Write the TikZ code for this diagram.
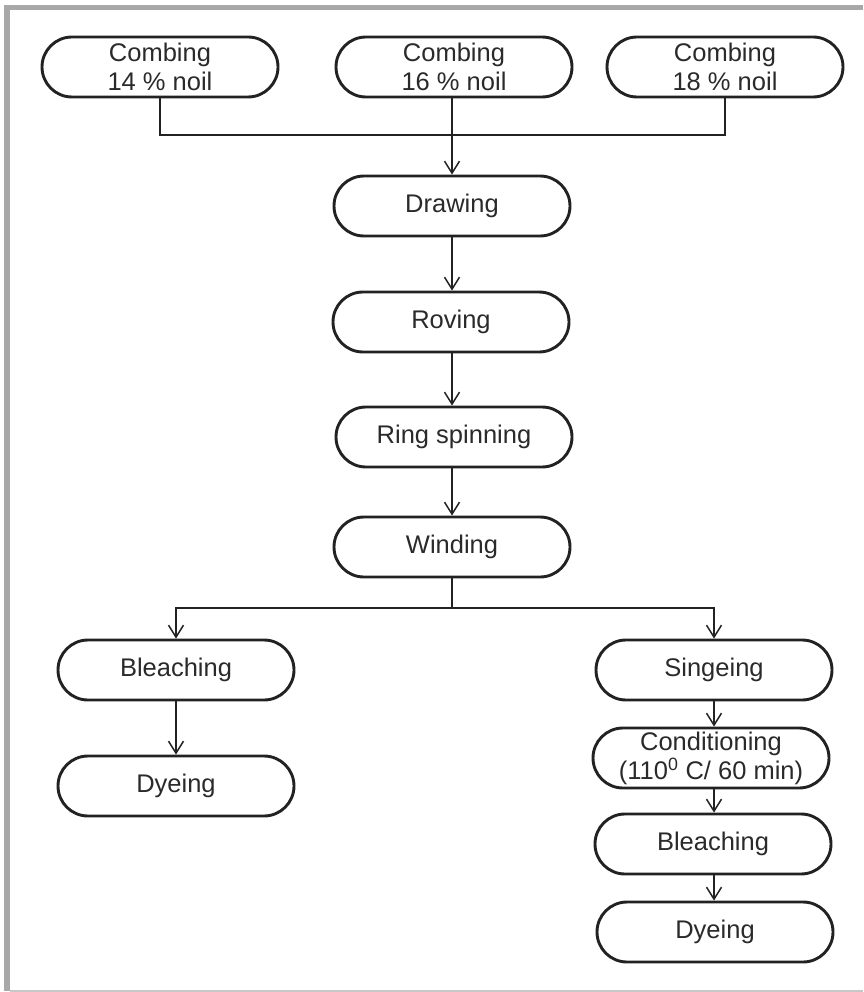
\documentclass[tikz,border=0pt]{standalone}
\usepackage{fontspec}
\setmainfont{Liberation Sans}
\usetikzlibrary{shapes.misc,arrows.meta}
\definecolor{framegray}{HTML}{A8A8A8}
\definecolor{framelight}{HTML}{C8C8C8}
\definecolor{ink}{HTML}{222222}
\definecolor{txt}{HTML}{2A2A2A}
\begin{document}
\begin{tikzpicture}[x=1pt,y=-1pt,
  proc/.style={rounded rectangle, draw=ink, line width=2.9pt, minimum width=236pt,
    minimum height=60pt, inner sep=0pt, align=center, text=txt,
    font=\fontsize{25.5}{29}\selectfont},
  conn/.style={draw=ink, line width=1.5pt},
  arr/.style={conn, -{Straight Barb[length=12pt,width=15pt,line width=1.5pt]}}]
\useasboundingbox (0,0) rectangle (863,992);
% frame
\fill[framegray] (4,5) rectangle (863,10);
\fill[framegray] (4,5) rectangle (10,991);
\draw[framelight, line width=1.2pt] (10,991) -- (863,991);
% nodes
\node[proc] (c14) at (160,67) {Combing\\14 \% noil};
\node[proc] (c16) at (454,67) {Combing\\16 \% noil};
\node[proc] (c18) at (725,67) {Combing\\18 \% noil};
\node[proc] (draw) at (452,206) {Drawing};
\node[proc] (rov) at (451,322) {Roving};
\node[proc] (ring) at (454,437) {Ring spinning};
\node[proc] (wind) at (452,547) {Winding};
\node[proc] (bl) at (176,670) {Bleaching};
\node[proc] (dl) at (176,786) {Dyeing};
\node[proc] (sing) at (714,670) {Singeing};
\node[proc] (cond) at (711,758) {Conditioning\\(110\textsuperscript{0} C/ 60 min)};
\node[proc] (br) at (713,844) {Bleaching};
\node[proc] (dr) at (715,932) {Dyeing};
% junctions
\coordinate (j1) at (452,135);
\coordinate (j2) at (452,608);
% connectors
\draw[conn] (c14.south) -- (c14.south |- j1) -- (c18.south |- j1) -- (c18.south);
\draw[arr] (c16.south -| j1) -- (draw.north -| j1);
\draw[arr] (draw.south -| j1) -- (rov.north -| j1);
\draw[arr] (rov.south -| j1) -- (ring.north -| j1);
\draw[arr] (ring.south -| j1) -- (wind.north -| j1);
\draw[conn, line width=2.2pt] (wind.south -| j2) -- (j2);
\draw[arr] (j2) -- (bl.north |- j2) -- (bl.north);
\draw[arr] (j2) -- (sing.north |- j2) -- (sing.north);
\draw[arr] (bl.south) -- (dl.north);
\draw[arr] (sing.south) -- (sing.south |- cond.north);
\draw[arr] (sing.south |- cond.south) -- (sing.south |- br.north);
\draw[arr] (sing.south |- br.south) -- (sing.south |- dr.north);
\end{tikzpicture}
\end{document}
